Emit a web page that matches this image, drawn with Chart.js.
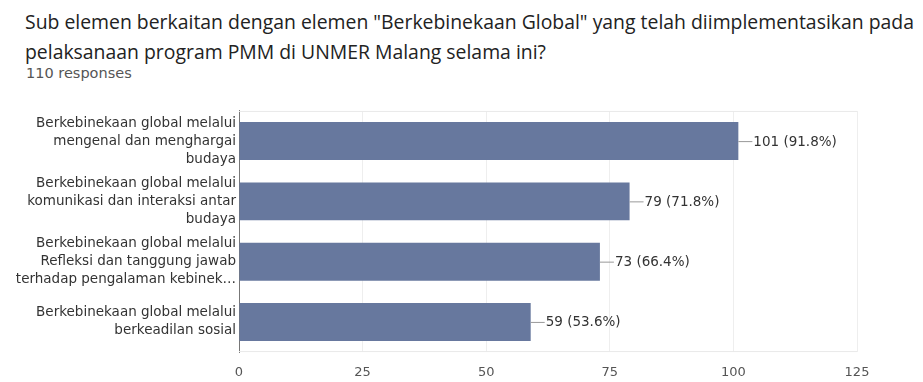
<!DOCTYPE html>
<html>
<head>
<meta charset="utf-8">
<script src="https://cdn.jsdelivr.net/npm/chart.js@4/dist/chart.umd.min.js"></script>
<style>
  body { margin: 0; background: #fff; width: 923px; height: 382px; overflow: hidden; position: relative; }
  .title { position: absolute; left: 25px; top: 7px; font-family: "Open Sans", sans-serif; font-size: 19.4px; line-height: 30px; color: #222; white-space: nowrap; }
  .sub { position: absolute; left: 26px; top: 65px; font-family: "DejaVu Sans", sans-serif; font-size: 14.5px; color: #555; }
  #chart_wrap { position: absolute; left: 0; top: 90px; width: 923px; height: 292px; }
</style>
</head>
<body>
<div class="title">Sub elemen berkaitan dengan elemen "Berkebinekaan Global" yang telah diimplementasikan pada<br>pelaksanaan program PMM di UNMER Malang selama ini?</div>
<div class="sub">110 responses</div>
<div id="chart_wrap"><canvas id="bar_chart"></canvas></div>
<script>
const categories = [
  ["Berkebinekaan global melalui", "mengenal dan menghargai", "budaya"],
  ["Berkebinekaan global melalui", "komunikasi dan interaksi antar", "budaya"],
  ["Berkebinekaan global melalui", "Refleksi dan tanggung jawab", "terhadap pengalaman kebinek\u2026"],
  ["Berkebinekaan global melalui", "berkeadilan sosial"]
];
const responses = [101, 79, 73, 59];
const totalResponses = 110;
const xTicks = [0, 25, 50, 75, 100, 125];

const labelFont = "'DejaVu Sans', sans-serif";

// faint frame at the top and bottom of the plot area
const plotFrame = {
  id: "plotFrame",
  beforeDatasetsDraw(chart) {
    const { ctx, chartArea } = chart;
    ctx.save();
    ctx.strokeStyle = "#e9e9e9";
    ctx.lineWidth = 1;
    ctx.beginPath();
    ctx.moveTo(chartArea.left, chartArea.top + 0.5);
    ctx.lineTo(chartArea.right, chartArea.top + 0.5);
    ctx.moveTo(chartArea.left, chartArea.bottom - 0.5);
    ctx.lineTo(chartArea.right, chartArea.bottom - 0.5);
    ctx.stroke();
    ctx.restore();
  }
};

// leader line + "count (pct%)" next to each bar
const valueLabels = {
  id: "valueLabels",
  afterDatasetsDraw(chart) {
    const ctx = chart.ctx;
    const meta = chart.getDatasetMeta(0);
    ctx.save();
    ctx.font = "13.5px " + labelFont;
    ctx.fillStyle = "#333";
    ctx.strokeStyle = "#999";
    ctx.lineWidth = 1;
    ctx.textBaseline = "middle";
    meta.data.forEach((bar, i) => {
      const v = responses[i];
      const pct = (v / totalResponses * 100).toFixed(1);
      ctx.beginPath();
      ctx.moveTo(bar.x, bar.y + 0.5);
      ctx.lineTo(bar.x + 14, bar.y + 0.5);
      ctx.stroke();
      ctx.fillText(v + " (" + pct + "%)", bar.x + 15, bar.y + 1);
    });
    ctx.restore();
  }
};

new Chart(document.getElementById("bar_chart"), {
  type: "bar",
  data: {
    labels: categories,
    datasets: [{
      data: responses,
      backgroundColor: "#67789e",
      borderWidth: 0,
      barPercentage: 0.63,
      categoryPercentage: 1
    }]
  },
  options: {
    indexAxis: "y",
    responsive: true,
    maintainAspectRatio: false,
    animation: false,
    layout: { padding: { top: 18, right: 66, bottom: 0, left: 0 } },
    plugins: { legend: { display: false }, tooltip: { enabled: false } },
    scales: {
      x: {
        min: 0,
        max: 125,
        afterBuildTicks(scale) { scale.ticks = xTicks.map(v => ({ value: v })); },
        afterFit(scale) { scale.height = 24; },
        grid: {
          drawTicks: false,
          color: "#eeeeee"
        },
        border: { display: false },
        ticks: {
          padding: 13,
          color: "#555",
          font: { family: labelFont, size: 13 }
        }
      },
      y: {
        afterFit(scale) { scale.width = 239; },
        grid: { display: false, drawTicks: false },
        border: { color: "#777", width: 1 },
        ticks: {
          padding: 3,
          color: "#333",
          font: { family: labelFont, size: 13.5, lineHeight: 1.33 }
        }
      }
    }
  },
  plugins: [plotFrame, valueLabels]
});
</script>
</body>
</html>
